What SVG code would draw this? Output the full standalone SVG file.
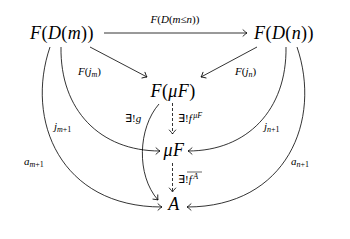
<svg xmlns="http://www.w3.org/2000/svg" width="350" height="239" viewBox="0 0 350 239">
<style>
.n{font-family:"Liberation Serif","Times New Roman",serif;font-size:18px;fill:#000;text-anchor:middle;letter-spacing:0.4px}
.l{font-family:"Liberation Serif","Times New Roman",serif;font-size:11px;fill:#000}
.i{font-style:italic}
.s{font-size:8px}
.c{fill:none;stroke:#000;stroke-width:0.8;marker-end:url(#ah)}
.d{fill:none;stroke:#000;stroke-width:0.8;stroke-dasharray:3 2;marker-end:url(#ah)}
</style>
<defs>
<marker id="ah" markerWidth="10" markerHeight="10" refX="0" refY="0" viewBox="-6 -5 8 10" orient="auto" markerUnits="userSpaceOnUse">
<path d="M-4,-3.2 Q-1.2,-0.6 0,0 Q-1.2,0.6 -4,3.2" fill="none" stroke="#000" stroke-width="0.8" stroke-linecap="round"/>
</marker>
</defs>
<g id="connectors">
<path class="c" d="M104,33 L247,33"/>
<path class="c" d="M90,47 L147,77"/>
<path class="c" d="M257,47 L201,77"/>
<path class="c" d="M61,47 C60,110 100,151 160,151"/>
<path class="c" d="M286,47 C287,110 247,151 188,151"/>
<path class="c" d="M50,47 C25,120 60,207 162,207"/>
<path class="c" d="M297,47 C322,120 287,207 187,207"/>
<path class="c" d="M159,104 C138,128 136,175 158,200"/>
<path class="d" d="M172.5,103 L172.5,134"/>
<path class="d" d="M172.5,163 L172.5,192"/>
</g>
<g id="labels">
<text class="l" x="175" y="23" text-anchor="middle"><tspan class="i">F</tspan>(<tspan class="i">D</tspan>(<tspan class="i">m</tspan>≤<tspan class="i">n</tspan>))</text>
<text class="l" x="78" y="75"><tspan class="i">F</tspan>(<tspan class="i">j</tspan><tspan class="s i" dy="2">m</tspan><tspan dy="-2">)</tspan></text>
<text class="l" x="235" y="75"><tspan class="i">F</tspan>(<tspan class="i">j</tspan><tspan class="s i" dy="2">n</tspan><tspan dy="-2">)</tspan></text>
<text class="l" x="125" y="122">∃!<tspan class="i">g</tspan></text>
<text class="l" x="178" y="122">∃!<tspan class="i">f</tspan><tspan class="s i" dx="1.5" dy="-4">μF</tspan></text>
<text class="l" x="178" y="183">∃!<tspan class="i">f</tspan><tspan class="s i" dx="1.5" dy="-4">A</tspan></text>
<line x1="187" y1="172" x2="202" y2="172" stroke="#000" stroke-width="0.6"/>
<text class="l" x="54" y="130"><tspan class="i">j</tspan><tspan class="s" dy="2"><tspan class="i">m</tspan>+1</tspan></text>
<text class="l" x="264" y="130"><tspan class="i">j</tspan><tspan class="s" dy="2"><tspan class="i">n</tspan>+1</tspan></text>
<text class="l" x="24" y="165"><tspan class="i">a</tspan><tspan class="s" dy="2"><tspan class="i">m</tspan>+1</tspan></text>
<text class="l" x="291" y="165"><tspan class="i">a</tspan><tspan class="s" dy="2"><tspan class="i">n</tspan>+1</tspan></text>
</g>
<g id="FDm"><text class="n" x="62" y="39"><tspan class="i">F</tspan>(<tspan class="i">D</tspan>(<tspan class="i">m</tspan>))</text></g>
<g id="FDn"><text class="n" x="284" y="39"><tspan class="i">F</tspan>(<tspan class="i">D</tspan>(<tspan class="i">n</tspan>))</text></g>
<g id="FmuF"><text class="n" x="173" y="97"><tspan class="i">F</tspan>(<tspan class="i">μF</tspan>)</text></g>
<g id="muF"><text class="n" x="174" y="156"><tspan class="i">μF</tspan></text></g>
<g id="A"><text class="n" x="174" y="210"><tspan class="i">A</tspan></text></g>
</svg>
